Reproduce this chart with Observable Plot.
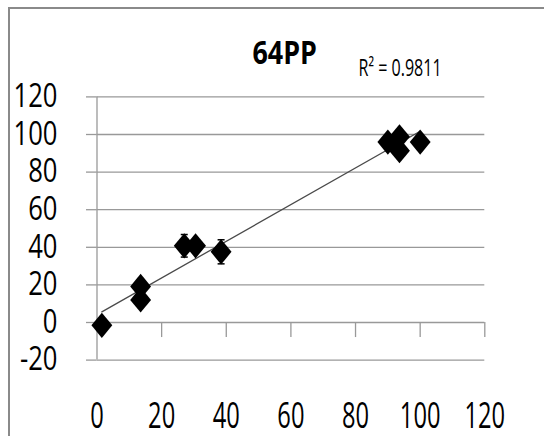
<!DOCTYPE html>
<html><head><meta charset="utf-8">
<script src="https://cdn.jsdelivr.net/npm/d3@7"></script>
<script src="https://cdn.jsdelivr.net/npm/@observablehq/plot@0.6"></script>
<style>
html,body{margin:0;padding:0;background:#fff;overflow:hidden}
#wrap{position:relative;width:544px;height:436px;overflow:hidden}
#frame{position:absolute;left:8px;top:7px;width:700px;height:700px;border:2px solid #8a8a8a;pointer-events:none}
</style></head><body><div id="wrap"><div id="frame"></div></div>
<script>
const title = "64PP";
const r2Label = "R\u00B2 = 0.9811";
const xValues = [1.5, 13.5, 13.5, 27.0, 30.5, 38.4, 90.0, 93.6, 93.6, 100.0];
const yValues = [-1.5, 19.2, 12.0, 40.8, 40.8, 37.6, 96.0, 98.8, 91.4, 96.0];
const yErrors = [1.0, 1.5, 1.5, 6.0, 1.5, 6.4, 1.5, 1.5, 1.5, 1.5];
const xTicks = [0, 20, 40, 60, 80, 100, 120];
const yTicks = [-20, 0, 20, 40, 60, 80, 100, 120];

const data = xValues.map((x, i) => ({x, y: yValues[i], e: yErrors[i]}));
const FONT = "'Open Sans', 'Noto Sans', sans-serif";
const GRID = "#999999";

const diamond = {draw(ctx, size) {
  const r = Math.sqrt(size / Math.PI); const w = r * 1.2, h = r * 1.45;
  ctx.moveTo(0, -h); ctx.lineTo(w, 0); ctx.lineTo(0, h); ctx.lineTo(-w, 0); ctx.closePath();
}};
const cap = {draw(ctx, size) {
  const r = Math.sqrt(size / Math.PI);
  ctx.moveTo(-r, 0); ctx.lineTo(r, 0);
}};

const chart = Plot.plot({
  width: 544, height: 436,
  marginLeft: 96.5, marginRight: 59.7, marginTop: 96.4, marginBottom: 76.4,
  x: {domain: [0, 120]},
  y: {domain: [-20, 120]},
  style: {background: "transparent", fontFamily: FONT, color: "#000"},
  marks: [
    Plot.gridY(yTicks, {stroke: GRID, strokeOpacity: 1, strokeWidth: 1.3}),
    Plot.axisY(yTicks, {tickSize: 10.5, tickPadding: 29, stroke: GRID, strokeWidth: 1.3, fontSize: 32, fill: "#000", tickFormat: d => String(d), label: null}),
    Plot.ruleX([0], {y1: -20, y2: 120, stroke: GRID, strokeWidth: 1.3}),
    Plot.ruleX(xTicks.slice(1), {x: d => d, y1: 0, y2: -8, stroke: GRID, strokeWidth: 1.3}),
    Plot.axisX(xTicks, {tickSize: 0, tickPadding: 41.5, fontSize: 37, fill: "#000", tickFormat: d => String(d), label: null}),
    Plot.linearRegressionY(data, {x: "x", y: "y", ci: 0, stroke: "#4a4a4a", strokeWidth: 1.3}),
    Plot.ruleX(data, {x: "x", y1: d => d.y - d.e, y2: d => d.y + d.e, stroke: "#000", strokeWidth: 1.5}),
    Plot.dot(data, {x: "x", y: d => d.y + d.e, symbol: cap, r: 3.5, fill: "none", stroke: "#000", strokeWidth: 1.5}),
    Plot.dot(data, {x: "x", y: d => d.y - d.e, symbol: cap, r: 3.5, fill: "none", stroke: "#000", strokeWidth: 1.5}),
    Plot.dot(data, {x: "x", y: "y", symbol: diamond, r: 8.7, fill: "#000", stroke: "none"}),
    Plot.text([title], {text: d => d, frameAnchor: "top-left", dx: 252 - 96.5, dy: 63 - 96.4, textAnchor: "start", lineAnchor: "bottom", fontSize: 32, fontWeight: "bold", fill: "#000"}),
    Plot.text([r2Label], {text: d => d, frameAnchor: "top-left", dx: 358 - 96.5, dy: 75 - 96.4, textAnchor: "start", lineAnchor: "bottom", fontSize: 24, fill: "#000"})
  ]
});
function squeeze(texts, sx) {
  texts.forEach(t => {
    const tr = t.getAttribute("transform") || "";
    t.setAttribute("transform", tr + ` scale(${sx},1)`);
  });
}
const q = s => { const g = chart.querySelector(s); return g ? Array.from(g.querySelectorAll("text")) : []; };
squeeze(q('g[aria-label="x-axis tick label"]'), 0.64);
squeeze(q('g[aria-label="y-axis tick label"]'), 0.8);
const textGroups = chart.querySelectorAll('g[aria-label="text"]');
if (textGroups[0]) squeeze(Array.from(textGroups[0].querySelectorAll("text")), 0.84);
if (textGroups[1]) squeeze(Array.from(textGroups[1].querySelectorAll("text")), 0.67);
document.getElementById("wrap").prepend(chart);
</script></body></html>
